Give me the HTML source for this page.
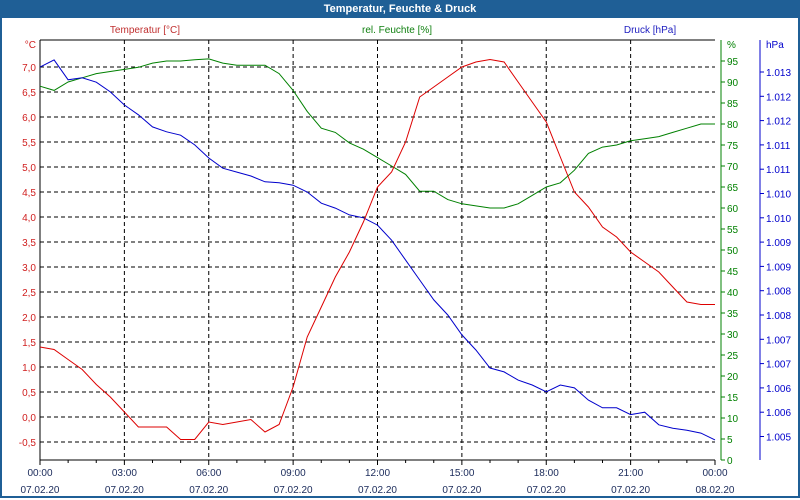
<!DOCTYPE html>
<html><head><meta charset="utf-8"><style>
body{margin:0;width:800px;height:500px;overflow:hidden;background:#fff;font-family:"Liberation Sans",sans-serif}
#frame{position:absolute;left:0;top:0;width:796px;height:496px;border:2px solid #1f5f96;border-top:none}
#title{position:absolute;left:0;top:0;width:800px;height:18px;background:#1f5f96;color:#fff;font-weight:bold;font-size:11px;text-align:center;line-height:18px}
svg{position:absolute;left:0;top:0}
</style></head><body>
<div id="frame"></div>
<div id="title">Temperatur, Feuchte &amp; Druck</div>
<svg id="c" width="800" height="500"></svg>
<script>
const hours=[0,0.5,1,1.5,2,2.5,3,3.5,4,4.5,5,5.5,6,6.5,7,7.5,8,8.5,9,9.5,10,10.5,11,11.5,12,12.5,13,13.5,14,14.5,15,15.5,16,16.5,17,17.5,18,18.5,19,19.5,20,20.5,21,21.5,22,22.5,23,23.5,24];
const temperature=[1.4,1.35,1.15,0.95,0.65,0.4,0.1,-0.2,-0.2,-0.2,-0.45,-0.45,-0.1,-0.15,-0.1,-0.05,-0.3,-0.15,0.6,1.6,2.2,2.8,3.3,3.9,4.6,4.9,5.5,6.4,6.6,6.8,7.0,7.1,7.15,7.1,6.7,6.3,5.9,5.2,4.5,4.2,3.8,3.6,3.3,3.1,2.9,2.6,2.3,2.25,2.25];
const humidity=[89,88,90,91,92,92.5,93,93.5,94.5,95,95,95.3,95.5,94.5,94,94,94,92,88,83,79,78,75.5,74,72,70,68,64,64,62,61,60.5,60,60,61,63,65,66,69,73,74.5,75,76,76.5,77,78,79,80,80];
const pressure=[1013.1,1013.25,1012.84,1012.88,1012.79,1012.59,1012.32,1012.12,1011.87,1011.77,1011.7,1011.5,1011.23,1011.02,1010.94,1010.86,1010.74,1010.72,1010.67,1010.53,1010.3,1010.2,1010.06,1010.0,1009.85,1009.54,1009.13,1008.72,1008.31,1008.0,1007.59,1007.28,1006.91,1006.83,1006.66,1006.56,1006.42,1006.56,1006.5,1006.25,1006.09,1006.09,1005.95,1006.0,1005.74,1005.67,1005.63,1005.57,1005.43];
const tempTicks=[-0.5,0,0.5,1,1.5,2,2.5,3,3.5,4,4.5,5,5.5,6,6.5,7];
const humTicks=[0,5,10,15,20,25,30,35,40,45,50,55,60,65,70,75,80,85,90,95];
const pressTicks=[1013,1012.5,1012,1011.5,1011,1010.5,1010,1009.5,1009,1008.5,1008,1007.5,1007,1006.5,1006,1005.5];
const pressLabels=["1.013","1.012","1.012","1.011","1.011","1.010","1.010","1.009","1.009","1.008","1.008","1.007","1.007","1.006","1.006","1.005"];
const xTicks=[0,3,6,9,12,15,18,21,24];
const xTimeLabels=["00:00","03:00","06:00","09:00","12:00","15:00","18:00","21:00","00:00"];
const xDateLabels=["07.02.20","07.02.20","07.02.20","07.02.20","07.02.20","07.02.20","07.02.20","07.02.20","08.02.20"];

const L=40,R=715,T=40,B=460;
const x=h=>L+h/24*(R-L);
const yT=v=>417-v*50;
const yH=v=>B-v*(B-T)/100;
const yP=v=>72+(1013-v)/0.5*24.3;
const svg=document.getElementById('c');
const NS='http://www.w3.org/2000/svg';
function mk(tag,a,parent){const e=document.createElementNS(NS,tag);for(const k in a)e.setAttribute(k,a[k]);(parent||svg).appendChild(e);return e;}
function txt(s,a){const e=mk('text',Object.assign({'font-size':'10','font-family':'Liberation Sans, sans-serif'},a));e.textContent=s;return e;}

tempTicks.forEach(v=>{const l=mk('line',{x1:L,x2:R,y1:yT(v),y2:yT(v),stroke:'#000','stroke-dasharray':'4,3','stroke-width':1});


const t=txt(v.toFixed(1).replace('.',','),{x:L-4,y:yT(v)+4,'text-anchor':'end',fill:'#d02020'});

});
xTicks.forEach((h,i)=>{if(i>0&&i<xTicks.length-1){const l=mk('line',{x1:x(h),x2:x(h),y1:T,y2:B,stroke:'#000','stroke-dasharray':'4,3'});

}
const a=txt(xTimeLabels[i],{x:x(h),y:476,'text-anchor':'middle',fill:'#1a2a5a'});


const b=txt(xDateLabels[i],{x:x(h),y:493,'text-anchor':'middle',fill:'#1a2a5a'});

});
for(let h=0;h<=24;h++){mk('line',{x1:x(h),x2:x(h),y1:B,y2:B+(h%3?3:5),stroke:'#000'});}
const ax=mk('path',{d:`M${L},${T}H${R}M${L},${T}V${B}H${R}`,stroke:'#000',fill:'none'});


mk('line',{x1:721,x2:721,y1:T,y2:B,stroke:'#008000'});
mk('line',{x1:760,x2:760,y1:T,y2:B,stroke:'#0000cc'});
humTicks.forEach(v=>{mk('line',{x1:721,x2:725,y1:yH(v),y2:yH(v),stroke:'#008000'});
const t=txt(String(v),{x:727,y:yH(v)+4,fill:'#008000'});

});
pressTicks.forEach((v,i)=>{mk('line',{x1:760,x2:764,y1:yP(v),y2:yP(v),stroke:'#0000cc'});
const t=txt(pressLabels[i],{x:766,y:yP(v)+4,fill:'#0000cc'});

});
[['°C',L-4,'end','#d02020','temp-unit'],['%',727,'start','#008000','humidity-unit'],['hPa',766,'start','#0000cc','pressure-unit']].forEach(u=>{const t=txt(u[0],{x:u[1],y:48,'text-anchor':u[2],fill:u[3]});

});
[['Temperatur [°C]',145,'#c03030','temp-axis-title'],['rel. Feuchte [%]',397,'#108010','humidity-axis-title'],['Druck [hPa]',650,'#2020c0','pressure-axis-title']].forEach(u=>{const t=txt(u[0],{x:u[1],y:33,'text-anchor':'middle',fill:u[2]});

});
function line(vals,yf,col,name){const d=vals.map((v,i)=>(i?'L':'M')+x(hours[i]).toFixed(1)+','+yf(v).toFixed(1)).join('');
const p=mk('path',{d:d,stroke:col,fill:'none','stroke-width':1});

}
line(humidity,yH,'#008000','humidity-line');
line(pressure,yP,'#0000cc','pressure-line');
line(temperature,yT,'#dd0000','temperature-line');
</script>
</body></html>
